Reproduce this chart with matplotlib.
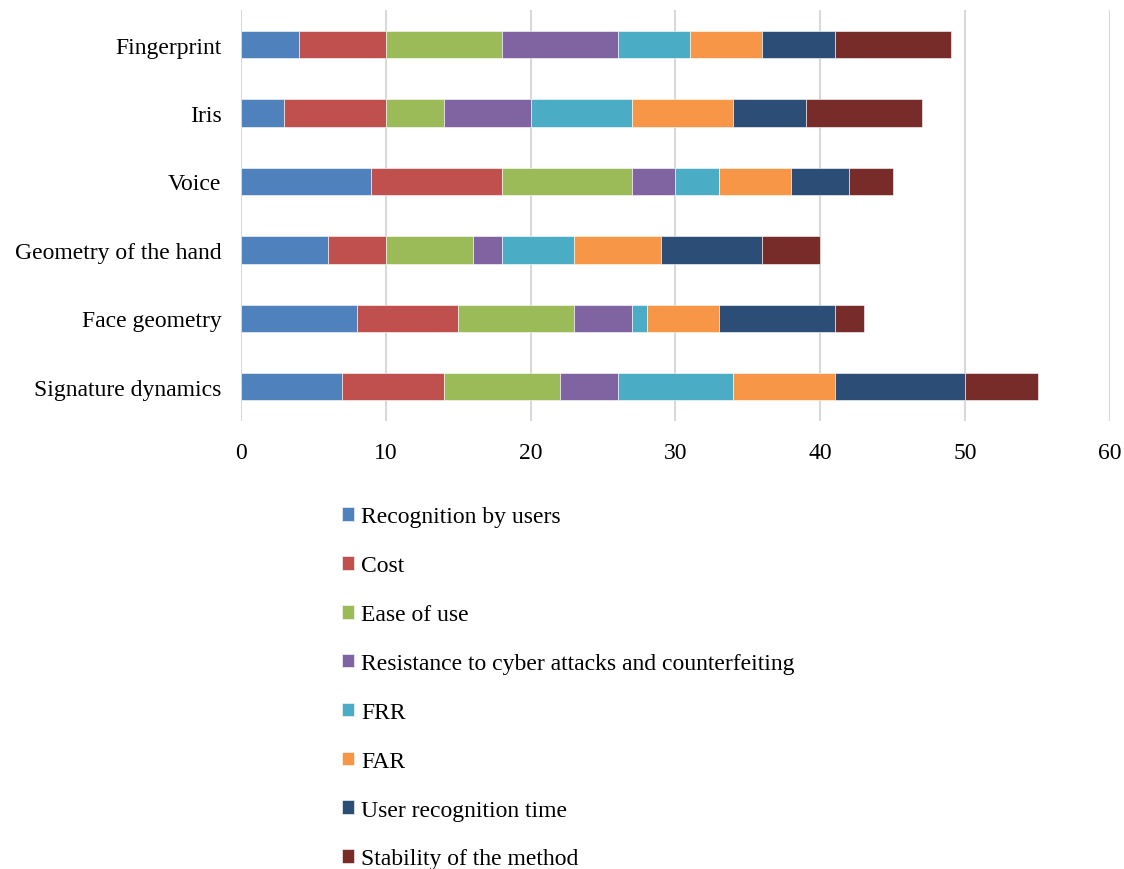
import matplotlib
matplotlib.use("Agg")
from matplotlib import pyplot as plt
import numpy as np

methods = ["Signature dynamics", "Face geometry", "Geometry of the hand",
           "Voice", "Iris", "Fingerprint"]

criteria = ["Recognition by users", "Cost", "Ease of use",
            "Resistance to cyber attacks and counterfeiting", "FRR", "FAR",
            "User recognition time", "Stability of the method"]

# values per criterion, in the order of methods above
recognition = [7, 8, 6, 9, 3, 4]
cost = [7, 7, 4, 9, 7, 6]
ease = [8, 8, 6, 9, 4, 8]
resistance = [4, 4, 2, 3, 6, 8]
frr = [8, 1, 5, 3, 7, 5]
far = [7, 5, 6, 5, 7, 5]
rec_time = [9, 8, 7, 4, 5, 5]
stability = [5, 2, 4, 3, 8, 8]

series = [recognition, cost, ease, resistance, frr, far, rec_time, stability]
colors = ["#4F81BD", "#C0504D", "#9BBB59", "#8064A2",
          "#4BACC6", "#F79646", "#2C4D75", "#772C2A"]

plt.rcParams['font.family'] = ['Liberation Serif', 'DejaVu Serif']

fig = plt.figure(figsize=(11.24, 8.7), dpi=100)
ax = fig.add_axes([0.2144, 0.515, 0.7731, 0.4719])

y = np.arange(len(methods))
left = np.zeros(len(methods))
handles = []
for vals, col, name in zip(series, colors, criteria):
    b = ax.barh(y, vals, height=0.4, left=left, color=col,
                edgecolor="white", linewidth=0.4, label=name, zorder=3)
    handles.append(b)
    left += np.array(vals)

ax.set_xlim(0, 60)
ax.set_ylim(-0.5, len(methods) - 0.5)
ax.set_xticks(range(0, 61, 10))
ax.set_yticks(y)
ax.set_yticklabels(methods)
ax.tick_params(axis='both', length=0, labelsize=17)
ax.tick_params(axis='x', pad=15)
ax.tick_params(axis='y', pad=14)
ax.grid(axis='x', color='#D9D9D9', linewidth=1.5, zorder=0)
for s in ax.spines.values():
    s.set_visible(False)

fig.legend(handles=handles, loc='upper left', bbox_to_anchor=(0.296, 0.4276),
           frameon=False, fontsize=17, handlelength=0.5, handleheight=0.5,
           handletextpad=0.3, labelspacing=1.18, borderaxespad=0)

fig.savefig("out.png", dpi=100)
